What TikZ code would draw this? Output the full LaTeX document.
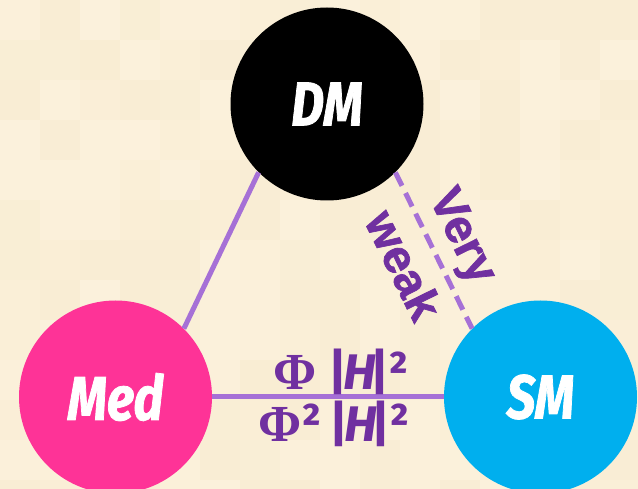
\documentclass[tikz,border=0pt]{standalone}
\usepackage{fontspec}
\setmainfont{Liberation Sans}
\newfontfamily\ballfont[FakeStretch=0.82, FakeBold=1.2]{Fira Sans}
\newfontfamily\formfont{Fira Sans}
\newfontfamily\greekfont{Liberation Serif}
\newfontfamily\weakfont[FakeBold=1.5]{Liberation Sans}
\definecolor{paper}{HTML}{FBF0D9}
\definecolor{paperdark}{HTML}{F3E4C4}
\definecolor{paperlight}{HTML}{FFF7E6}
\definecolor{medpink}{HTML}{FE3397}
\definecolor{smcyan}{HTML}{00AFEE}
\definecolor{linkpurple}{HTML}{A670D6}
\definecolor{textpurple}{HTML}{7030A0}
\tikzset{
  ball/.style={circle, minimum size=193pt, inner sep=0pt, text=white,
    font=\ballfont\bfseries\itshape\fontsize{62}{62}\selectfont},
  link/.style={draw=linkpurple, line width=5pt},
  weaklabel/.style={sloped, inner sep=0pt, text=textpurple,
    font=\weakfont\bfseries\fontsize{47}{47}\selectfont},
  formula/.style={anchor=base, inner sep=0pt, text=textpurple},
}
\newcommand{\Phisym}{{\greekfont\bfseries\fontsize{52}{52}\selectfont Φ}}
\newcommand{\absH}{{\formfont\bfseries\fontsize{50}{50}\selectfont |\kern-4pt{\itshape H}\kern-5pt|\kern-1pt²}}
\newcommand{\sqr}{{\formfont\bfseries\fontsize{50}{50}\selectfont ²}}
\begin{document}
\begin{tikzpicture}[x=1pt, y=-1pt]
  \useasboundingbox (0,0) rectangle (638,489);
  % parchment backdrop with a faint mottling
  \begin{scope}
    \clip (0,0) rectangle (638,489);
    \fill[paper] (0,0) rectangle (638,489);
    \pgfmathsetseed{7}
    \foreach \i in {0,...,15} {
      \foreach \j in {0,...,12} {
        \pgfmathsetmacro{\tone}{rnd}
        \pgfmathsetmacro{\op}{0.05+0.2*rnd}
        \ifdim\tone pt<0.5pt
          \fill[paperdark, opacity=\op] (40*\i,40*\j) rectangle ++(40,40);
        \else
          \fill[paperlight, opacity=\op] (40*\i,40*\j) rectangle ++(40,40);
        \fi
      }
    }
  \end{scope}

  % the three particle sectors
  \node[ball, fill=black]   (DM)  at (327,104)   {DM};
  \node[ball, fill=medpink] (Med) at (115.5,397) {Med};
  \node[ball, fill=smcyan]  (SM)  at (540.5,397) {SM};

  % couplings
  \draw[link] (DM.south west) -- (Med.north east);
  \draw[link, dash pattern=on 15pt off 8pt] (DM.south east)
    -- node[weaklabel, yshift=30pt] {Very}
       node[weaklabel, yshift=-33pt] {weak} (SM.north west);
  \draw[link] (Med.east)
    -- node[formula, xshift=13pt, yshift=7pt] {\Phisym\hspace{12pt}\absH}
       node[formula, xshift=6pt, yshift=-45pt] {\Phisym\sqr\hspace{8pt}\absH} (SM.west);
\end{tikzpicture}
\end{document}
